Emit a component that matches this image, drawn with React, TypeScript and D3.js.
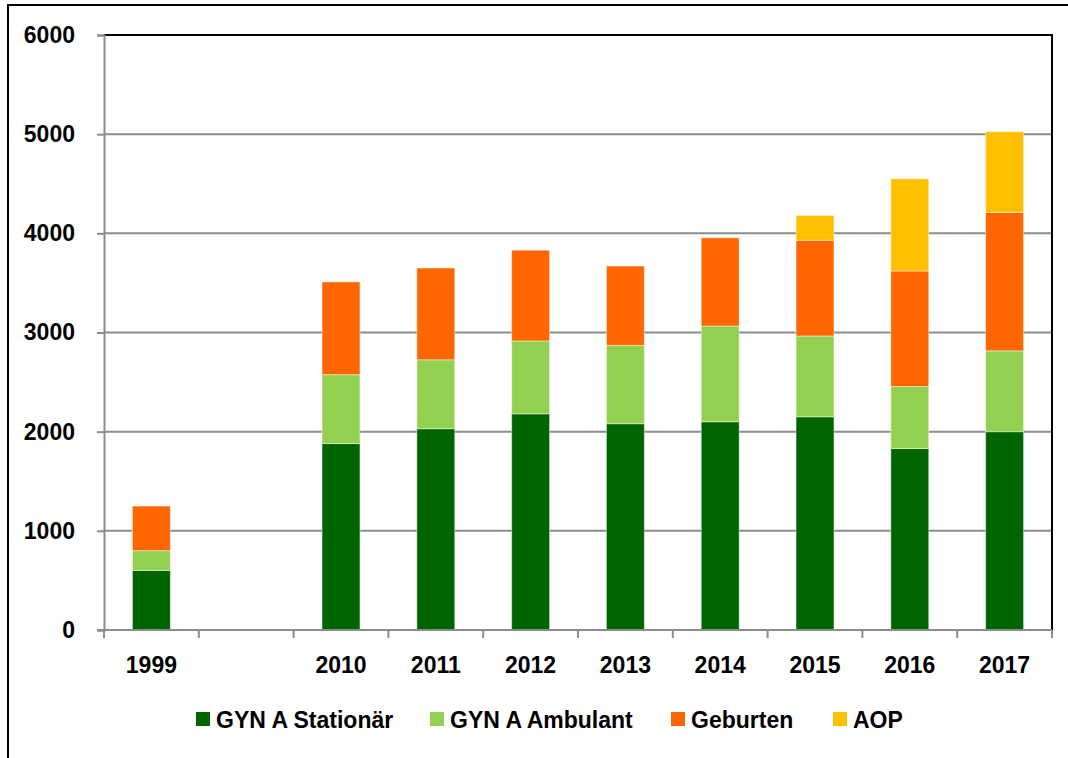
import React, { useEffect, useRef } from 'react';
import * as d3 from 'd3';

const years = ['1999', '', '2010', '2011', '2012', '2013', '2014', '2015', '2016', '2017'];
const stationaer = [600, 0, 1880, 2030, 2180, 2080, 2100, 2150, 1830, 2000];
const ambulant = [200, 0, 695, 695, 735, 790, 965, 815, 625, 815];
const geburten = [450, 0, 935, 925, 915, 800, 890, 965, 1165, 1395];
const aop = [0, 0, 0, 0, 0, 0, 0, 250, 930, 815];
const seriesNames = ['GYN A Stationär', 'GYN A Ambulant', 'Geburten', 'AOP'];
const yTicks = [0, 1000, 2000, 3000, 4000, 5000, 6000];

const colors = ['#006400', '#92D050', '#FF6600', '#FFC000'];
const font = "'Liberation Sans', Arial, sans-serif";

const App = () => {
  const ref = useRef<SVGSVGElement>(null);

  useEffect(() => {
    drawChart();
  }, []); // eslint-disable-line react-hooks/exhaustive-deps

  const drawChart = () => {
    const svg = d3.select(ref.current);
    svg.selectAll('*').remove();

    const left = 104;
    const right = 1052;
    const top = 35;
    const bottom = 630;

    const rows = years.map((y, i) => ({
      year: y,
      s0: stationaer[i],
      s1: ambulant[i],
      s2: geburten[i],
      s3: aop[i],
    }));

    const x = d3
      .scaleBand()
      .domain(years)
      .range([left, right])
      .paddingInner(0.6)
      .paddingOuter(0.3);

    const y = d3.scaleLinear().domain([0, 6000]).range([bottom, top]);

    // outer frame (only top and left visible)
    svg
      .append('rect')
      .attr('x', 8)
      .attr('y', 5)
      .attr('width', 1200)
      .attr('height', 900)
      .attr('fill', 'white')
      .attr('stroke', '#000')
      .attr('stroke-width', 2);

    // gridlines
    svg
      .append('g')
      .selectAll('line')
      .data(yTicks.slice(1, -1))
      .enter()
      .append('line')
      .attr('x1', left)
      .attr('x2', right)
      .attr('y1', (d) => y(d))
      .attr('y2', (d) => y(d))
      .attr('stroke', '#8c8c8c')
      .attr('stroke-width', 2);

    // plot area border top + right
    svg
      .append('path')
      .attr('d', `M${left},${top}H${right}V${bottom}`)
      .attr('fill', 'none')
      .attr('stroke', '#000')
      .attr('stroke-width', 2);

    const stack = d3.stack<any>().keys(['s0', 's1', 's2', 's3']);
    const layers = stack(rows);

    svg
      .append('g')
      .selectAll('g')
      .data(layers)
      .enter()
      .append('g')
      .attr('fill', (d, i) => colors[i])
      .selectAll('rect')
      .data((d) => d.filter((p) => p[1] - p[0] > 0))
      .enter()
      .append('rect')
      .attr('x', (d) => x(d.data.year)!)
      .attr('width', x.bandwidth())
      .attr('y', (d) => y(d[1]))
      .attr('height', (d) => y(d[0]) - y(d[1]))
      .attr('stroke', 'rgba(255,255,255,0.45)')
      .attr('stroke-width', 1);

    // y axis
    const yAxis = svg
      .append('g')
      .attr('transform', `translate(${left},0)`)
      .call(d3.axisLeft(y).tickValues(yTicks).tickSize(7).tickPadding(22).tickFormat(d3.format('d')));
    yAxis.select('.domain').attr('stroke', '#8c8c8c').attr('stroke-width', 2);
    yAxis.selectAll('.tick line').attr('stroke', '#8c8c8c').attr('stroke-width', 2);
    yAxis
      .selectAll('.tick text')
      .attr('fill', '#000')
      .style('font-family', font)
      .style('font-weight', 'bold')
      .style('font-size', '23px');

    // x axis
    const step = x.step();
    const xAxis = svg.append('g').attr('transform', `translate(0,${bottom})`);
    xAxis
      .append('line')
      .attr('x1', left - 7)
      .attr('x2', right)
      .attr('stroke', '#8c8c8c')
      .attr('stroke-width', 2);
    xAxis
      .selectAll('line.tk')
      .data(d3.range(years.length + 1))
      .enter()
      .append('line')
      .attr('class', 'tk')
      .attr('x1', (i) => left + i * step)
      .attr('x2', (i) => left + i * step)
      .attr('y1', 0)
      .attr('y2', 8)
      .attr('stroke', '#8c8c8c')
      .attr('stroke-width', 2);
    xAxis
      .selectAll('text')
      .data(years)
      .enter()
      .append('text')
      .attr('x', (d) => x(d)! + x.bandwidth() / 2)
      .attr('y', 43)
      .attr('text-anchor', 'middle')
      .style('font-family', font)
      .style('font-weight', 'bold')
      .style('font-size', '23px')
      .text((d) => d);

    // legend
    const legendX = [196, 430, 671, 833];
    const legend = svg
      .append('g')
      .selectAll('g')
      .data(seriesNames)
      .enter()
      .append('g')
      .attr('transform', (d, i) => `translate(${legendX[i]},712)`);
    legend
      .append('rect')
      .attr('width', 14)
      .attr('height', 14)
      .attr('fill', (d, i) => colors[i]);
    legend
      .append('text')
      .attr('x', 20)
      .attr('y', 16)
      .style('font-family', font)
      .style('font-weight', 'bold')
      .style('font-size', '23px')
      .text((d) => d);
  };

  return (
    <svg
      ref={ref}
      width={1068}
      height={758}
      style={{ position: 'absolute', left: 0, top: 0 }}
    ></svg>
  );
};

export default App;
